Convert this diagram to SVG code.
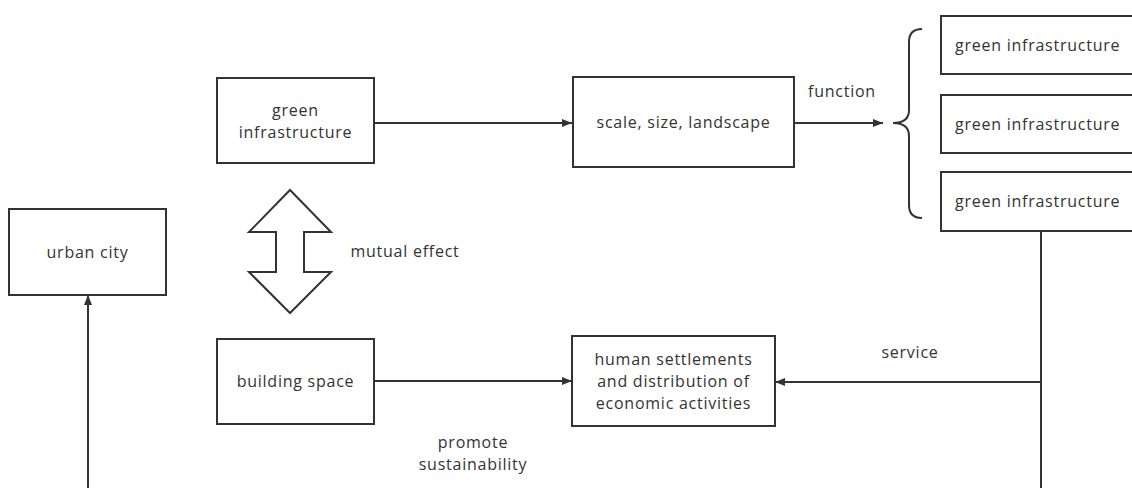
<svg xmlns="http://www.w3.org/2000/svg" width="1132" height="488" viewBox="0 0 1132 488">
<defs>
<style>
.box{fill:#fff;stroke:#333;stroke-width:2}
.t{font-family:"Open Sans","Noto Sans","Liberation Sans",sans-serif;font-size:16px;letter-spacing:0.75px;fill:#333;text-anchor:middle}
.c{fill:none;stroke:#333;stroke-width:2}
</style>
<marker id="ah" viewBox="0 0 10 8" refX="10" refY="4" markerWidth="10" markerHeight="8" markerUnits="userSpaceOnUse" orient="auto">
<path d="M0,0 L10,4 L0,8 Z" fill="#333"/>
</marker>
</defs>
<rect width="1132" height="488" fill="#fff"/>
<g id="connectors">
<path class="c" d="M374,123 H572" marker-end="url(#ah)"/>
<path class="c" d="M794,123 H883" marker-end="url(#ah)"/>
<path class="c" d="M1041,231 V488"/>
<path class="c" d="M1041,382 H775" marker-end="url(#ah)"/>
<path class="c" d="M374,381 H572" marker-end="url(#ah)"/>
<path class="c" d="M88,488 V295" marker-end="url(#ah)"/>
<path class="c" d="M922,29 Q909,29 909,42 V110 Q909,123 893,123 Q909,123 909,136 V205 Q909,218 922,218"/>
<polygon class="c" points="290,190 331,232 304,232 304,272 331,272 290,313 249,272 276,272 276,232 249,232" style="fill:#fff"/>
<text class="t" x="808" y="97" style="text-anchor:start">function</text>
<text class="t" x="405" y="257">mutual effect</text>
<text class="t" x="910" y="358">service</text>
<text class="t" x="473" y="448">promote</text>
<text class="t" x="473" y="470">sustainability</text>
</g>
<g id="green1">
<rect class="box" x="217" y="78" width="157" height="85"/>
<text class="t" x="295.5" y="116">green</text>
<text class="t" x="295.5" y="138">infrastructure</text>
</g>
<g id="scale">
<rect class="box" x="573" y="77" width="221" height="90"/>
<text class="t" x="683.5" y="128">scale, size, landscape</text>
</g>
<g id="gi-a">
<rect class="box" x="941" y="16" width="200" height="58"/>
<text class="t" x="955" y="51" style="text-anchor:start">green infrastructure</text>
</g>
<g id="gi-b">
<rect class="box" x="941" y="95" width="200" height="58"/>
<text class="t" x="955" y="130" style="text-anchor:start">green infrastructure</text>
</g>
<g id="gi-c">
<rect class="box" x="941" y="172" width="200" height="59"/>
<text class="t" x="955" y="207" style="text-anchor:start">green infrastructure</text>
</g>
<g id="urban">
<rect class="box" x="9" y="209" width="157" height="86"/>
<text class="t" x="87.5" y="258">urban city</text>
</g>
<g id="building">
<rect class="box" x="217" y="339" width="157" height="85"/>
<text class="t" x="295.5" y="387">building space</text>
</g>
<g id="human">
<rect class="box" x="572" y="336" width="203" height="90"/>
<text class="t" x="673.5" y="365">human settlements</text>
<text class="t" x="673.5" y="387">and distribution of</text>
<text class="t" x="673.5" y="409">economic activities</text>
</g>
</svg>
